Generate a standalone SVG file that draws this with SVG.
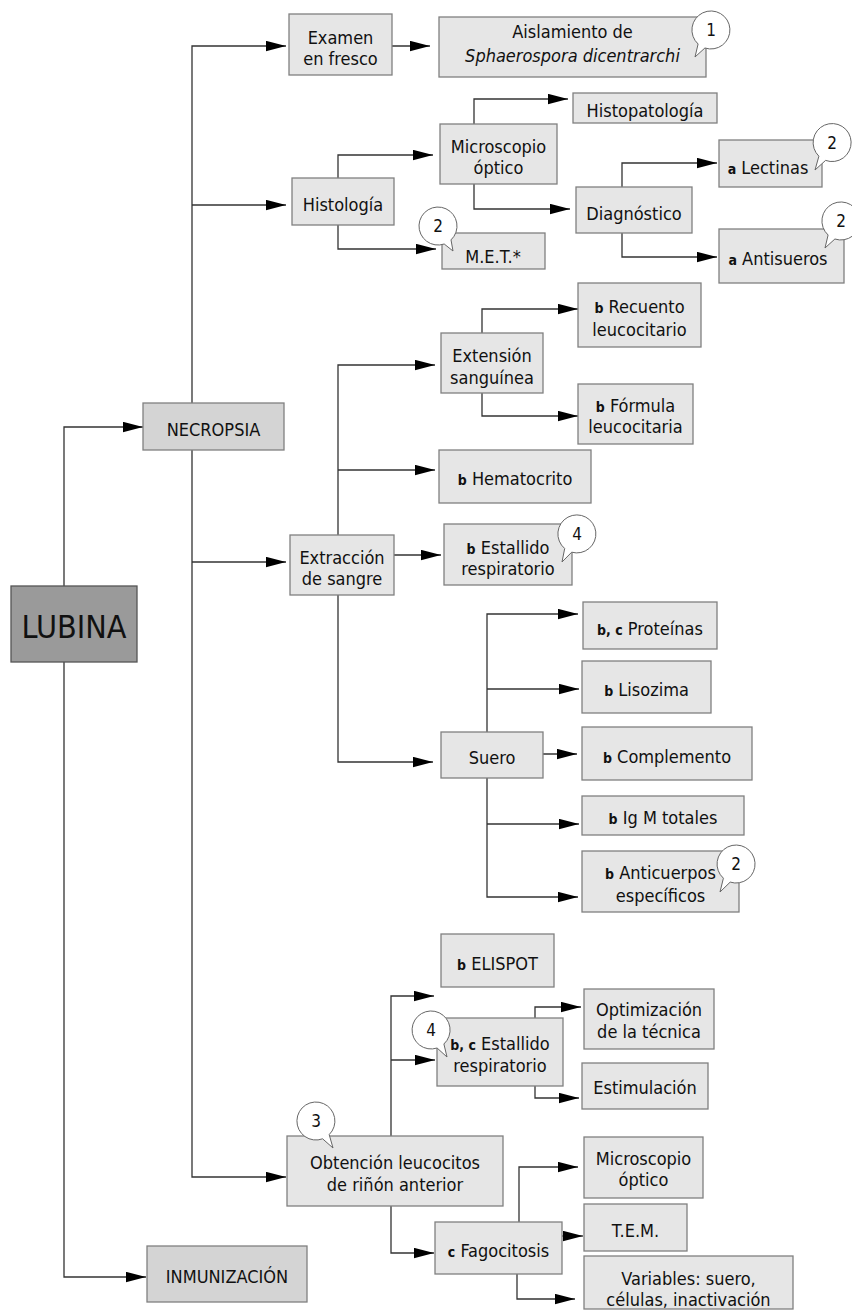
<svg xmlns="http://www.w3.org/2000/svg" width="852" height="1311" viewBox="0 0 852 1311">
<defs>
<marker id="ah" markerUnits="userSpaceOnUse" markerWidth="20" markerHeight="11" refX="20" refY="5.5" orient="auto">
<path d="M0,0.3 L20,5.5 L0,10.7 Z" fill="#000"/>
</marker>
<style>
.box{fill:#e6e6e6;stroke:#808080;stroke-width:1.3}
.dk{fill:#d4d4d4}
.root{fill:#9a9a9a;stroke:#555;stroke-width:1.3}
text{font-family:"DejaVu Sans Condensed","DejaVu Sans",sans-serif;font-stretch:condensed;font-size:18px;fill:#111;text-anchor:middle}
.s{font-size:14px;font-weight:bold}
.big{font-size:32px}
.it{font-style:italic}
.c{fill:none;stroke:#333;stroke-width:1.3;marker-end:url(#ah)}
.co{fill:#fff;stroke:#666;stroke-width:1}
.cn{font-size:17px}
</style>
</defs>
<rect width="852" height="1311" fill="#fff"/>
<g id="connectors">
<path class="c" d="M64 586 V427 H143"/>
<path class="c" d="M64 662 V1277 H146"/>
<path class="c" d="M192 403 V46 H286"/>
<path class="c" d="M192 205 H286"/>
<path class="c" d="M192 450 V1177 H286"/>
<path class="c" d="M192 562 H286"/>
<path class="c" d="M392 46 H430"/>
<path class="c" d="M338 178 V155 H433"/>
<path class="c" d="M338 225 V249 H436"/>
<path class="c" d="M474 124 V99 H568"/>
<path class="c" d="M474 184 V209 H570"/>
<path class="c" d="M622 187 V163 H717"/>
<path class="c" d="M622 233 V257 H717"/>
<path class="c" d="M338 535 V365 H435"/>
<path class="c" d="M338 470 H435"/>
<path class="c" d="M394 555 H441"/>
<path class="c" d="M338 595 V762 H433"/>
<path class="c" d="M482 333 V309 H578"/>
<path class="c" d="M482 393 V416 H578"/>
<path class="c" d="M487 732 V614 H578"/>
<path class="c" d="M487 689 H579"/>
<path class="c" d="M543 754 H577"/>
<path class="c" d="M487 778 V897 H578"/>
<path class="c" d="M487 824 H579"/>
<path class="c" d="M391 1136 V996 H434"/>
<path class="c" d="M391 1060 H435"/>
<path class="c" d="M391 1206 V1253 H434"/>
<path class="c" d="M535 1018 V1007 H581"/>
<path class="c" d="M535 1086 V1098 H579"/>
<path class="c" d="M519 1222 V1167 H578"/>
<path class="c" d="M562 1236 H583"/>
<path class="c" d="M517 1274 V1299 H575"/>
</g>
<g id="lubina"><rect class="root" x="11" y="586" width="126" height="76"/><text class="big" x="74" y="638">LUBINA</text></g>
<g id="necropsia"><rect class="box dk" x="143" y="403" width="141" height="47"/><text x="213.5" y="435.5">NECROPSIA</text></g>
<g id="inmunizacion"><rect class="box dk" x="147" y="1246" width="160" height="56"/><text x="227" y="1283">INMUNIZACIÓN</text></g>
<g id="examen"><rect class="box" x="289" y="14" width="103" height="61"/><text x="340.5" y="43.5">Examen</text><text x="340.5" y="64.5">en fresco</text></g>
<g id="aislamiento"><rect class="box" x="439" y="17" width="267" height="60"/><text x="572.5" y="37.5">Aislamiento de</text><text class="it" x="572.5" y="62">Sphaerospora dicentrarchi</text></g>
<g id="histologia"><rect class="box" x="292" y="178" width="102" height="47"/><text x="343" y="211">Histología</text></g>
<g id="microscopio1"><rect class="box" x="440" y="124" width="117" height="60"/><text x="498.5" y="153">Microscopio</text><text x="498.5" y="174">óptico</text></g>
<g id="histopatologia"><rect class="box" x="573" y="93" width="144" height="30"/><text x="645" y="117">Histopatología</text></g>
<g id="diagnostico"><rect class="box" x="576" y="187" width="116" height="46"/><text x="634" y="220">Diagnóstico</text></g>
<g id="lectinas"><rect class="box" x="719" y="140" width="103" height="47"/><text x="768" y="173.5"><tspan class="s">a</tspan> Lectinas</text></g>
<g id="antisueros"><rect class="box" x="719" y="229" width="125" height="54"/><text x="778" y="265"><tspan class="s">a</tspan> Antisueros</text></g>
<g id="met"><rect class="box" x="442" y="233" width="103" height="36"/><text x="493" y="263">M.E.T.*</text></g>
<g id="extraccion"><rect class="box" x="290" y="535" width="104" height="60"/><text x="342" y="563.5">Extracción</text><text x="342" y="585">de sangre</text></g>
<g id="extension"><rect class="box" x="441" y="333" width="102" height="60"/><text x="492" y="362">Extensión</text><text x="492" y="384">sanguínea</text></g>
<g id="recuento"><rect class="box" x="578" y="283" width="123" height="64"/><text x="639.5" y="313"><tspan class="s">b</tspan> Recuento</text><text x="639.5" y="336">leucocitario</text></g>
<g id="formula"><rect class="box" x="578" y="384" width="115" height="60"/><text x="635.5" y="412"><tspan class="s">b</tspan> Fórmula</text><text x="635.5" y="433">leucocitaria</text></g>
<g id="hematocrito"><rect class="box" x="439" y="450" width="152" height="53"/><text x="515" y="485"><tspan class="s">b</tspan> Hematocrito</text></g>
<g id="estallido1"><rect class="box" x="444" y="524" width="128" height="61"/><text x="508" y="553.5"><tspan class="s">b</tspan> Estallido</text><text x="508" y="575">respiratorio</text></g>
<g id="suero"><rect class="box" x="441" y="732" width="102" height="46"/><text x="492" y="764">Suero</text></g>
<g id="proteinas"><rect class="box" x="583" y="602" width="134" height="47"/><text x="650" y="635"><tspan class="s">b, c</tspan> Proteínas</text></g>
<g id="lisozima"><rect class="box" x="582" y="661" width="129" height="52"/><text x="646.5" y="696"><tspan class="s">b</tspan> Lisozima</text></g>
<g id="complemento"><rect class="box" x="582" y="727" width="170" height="53"/><text x="667" y="763"><tspan class="s">b</tspan> Complemento</text></g>
<g id="igm"><rect class="box" x="582" y="796" width="162" height="39"/><text x="663" y="824"><tspan class="s">b</tspan> Ig M totales</text></g>
<g id="anticuerpos"><rect class="box" x="582" y="851" width="157" height="61"/><text x="660.5" y="878.5"><tspan class="s">b</tspan> Anticuerpos</text><text x="660.5" y="901.5">específicos</text></g>
<g id="elispot"><rect class="box" x="441" y="934" width="113" height="53"/><text x="497.5" y="970"><tspan class="s">b</tspan> ELISPOT</text></g>
<g id="optimizacion"><rect class="box" x="584" y="989" width="130" height="60"/><text x="649" y="1016">Optimización</text><text x="649" y="1038">de la técnica</text></g>
<g id="estallido2"><rect class="box" x="437" y="1018" width="126" height="68"/><text x="500" y="1050"><tspan class="s">b, c</tspan> Estallido</text><text x="500" y="1072">respiratorio</text></g>
<g id="estimulacion"><rect class="box" x="582" y="1063" width="126" height="46"/><text x="645" y="1094">Estimulación</text></g>
<g id="obtencion"><rect class="box" x="287" y="1136" width="216" height="70"/><text x="395" y="1168.5">Obtención leucocitos</text><text x="395" y="1190.5">de riñón anterior</text></g>
<g id="fagocitosis"><rect class="box" x="435" y="1222" width="127" height="52"/><text x="498.5" y="1257"><tspan class="s">c</tspan> Fagocitosis</text></g>
<g id="microscopio2"><rect class="box" x="584" y="1137" width="119" height="61"/><text x="643.5" y="1165">Microscopio</text><text x="643.5" y="1186">óptico</text></g>
<g id="tem"><rect class="box" x="584" y="1204" width="103" height="47"/><text x="635.5" y="1237">T.E.M.</text></g>
<g id="variables"><rect class="box" x="584" y="1256" width="209" height="53"/><text x="688.5" y="1285">Variables: suero,</text><text x="688.5" y="1306">células, inactivación</text></g>
<g id="callout1"><path class="co" d="M698.1 44 A19 19 0 1 1 704.9 48 L695 57 Z"/><text class="cn" x="711" y="36">1</text></g>
<g id="callout2a"><path class="co" d="M818.9 156.2 A19 19 0 1 1 825.6 160.4 L815 170 Z"/><text class="cn" x="832" y="148.5">2</text></g>
<g id="callout2b"><path class="co" d="M828.1 235 A19 19 0 1 1 834.9 239 L825 248 Z"/><text class="cn" x="841" y="227">2</text></g>
<g id="callout2c"><path class="co" d="M444.2 244 A19 19 0 1 1 451 239.9 L453 251 Z"/><text class="cn" x="438" y="232">2</text></g>
<g id="callout4a"><path class="co" d="M564.7 548.5 A19 19 0 1 1 571.7 552.2 L562 562 Z"/><text class="cn" x="577" y="540">4</text></g>
<g id="callout2d"><path class="co" d="M723.4 878.2 A19 19 0 1 1 730.2 882.1 L720 892 Z"/><text class="cn" x="736" y="870">2</text></g>
<g id="callout3"><path class="co" d="M322.6 1138.8 A19 19 0 1 1 329.2 1134.6 L333 1148 Z"/><text class="cn" x="316" y="1127">3</text></g>
<g id="callout4b"><path class="co" d="M437.1 1048 A19 19 0 1 1 443.9 1044 L447 1057 Z"/><text class="cn" x="431" y="1036">4</text></g>
</svg>
